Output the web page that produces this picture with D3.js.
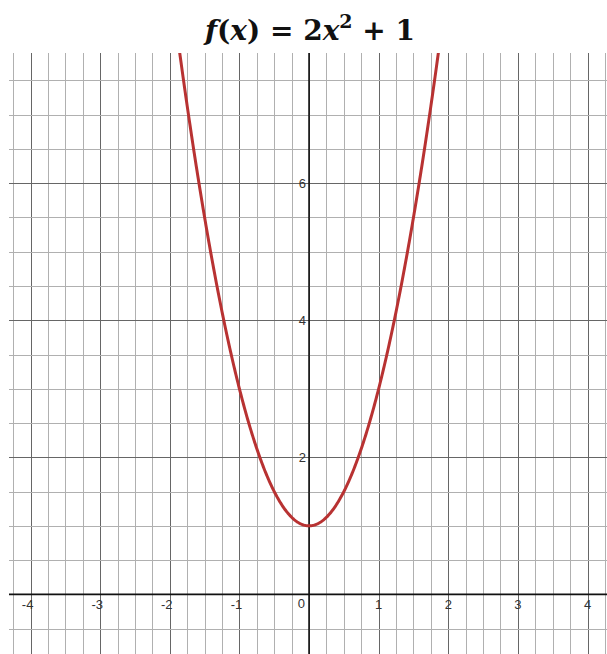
<!DOCTYPE html>
<html><head><meta charset="utf-8">
<script src="https://cdn.jsdelivr.net/npm/d3@7"></script>
<style>body{margin:0;background:#fff;}svg{display:block;}</style>
</head><body>
<svg id="c" width="607" height="654"></svg>
<script>
const xDomain = [-4.31, 4.28];
const yDomain = [-0.87, 7.9];
const xTickLabels = [-4, -3, -2, -1, 1, 2, 3, 4];
const yTickLabels = [2, 4, 6];
const xMinorStep = 0.25;
const yMinorStep = 0.5;
const coefA = 2, coefC = 1;
const curveX = d3.range(-2.0, 2.0001, 0.01);

(function(){
const svg = d3.select("#c");
const pL = 9, pR = 607, pT = 53, pB = 654;
const x = d3.scaleLinear().domain(xDomain).range([pL, pR]);
const y = d3.scaleLinear().domain(yDomain).range([pB, pT]);

svg.append("clipPath").attr("id","clip").append("rect")
  .attr("x", pL).attr("y", pT).attr("width", pR-pL).attr("height", pB-pT);
const g = svg.append("g").attr("clip-path","url(#clip)");

const xMinor = d3.range(Math.ceil(xDomain[0]/xMinorStep)*xMinorStep, xDomain[1], xMinorStep);
const yMinor = d3.range(Math.ceil(yDomain[0]/yMinorStep)*yMinorStep, yDomain[1], yMinorStep);
const isInt = v => Math.abs(v - Math.round(v)) < 1e-6;
const isEven = v => isInt(v) && Math.round(v) % 2 === 0;

g.selectAll(".vx").data(xMinor).join("line")
  .attr("x1", d => Math.round(x(d))+0.5).attr("x2", d => Math.round(x(d))+0.5)
  .attr("y1", pT).attr("y2", pB)
  .attr("stroke", d => isInt(d) ? "#666" : "#b0b0b0").attr("stroke-width", 1);
g.selectAll(".hy").data(yMinor).join("line")
  .attr("y1", d => Math.round(y(d))+0.5).attr("y2", d => Math.round(y(d))+0.5)
  .attr("x1", pL).attr("x2", pR)
  .attr("stroke", d => isEven(d) ? "#666" : "#b0b0b0").attr("stroke-width", 1);

g.append("line").attr("x1", pL).attr("x2", pR).attr("y1", y(0)).attr("y2", y(0))
  .attr("stroke", "#111").attr("stroke-width", 1.6);
g.append("line").attr("y1", pT).attr("y2", pB).attr("x1", x(0)).attr("x2", x(0))
  .attr("stroke", "#111").attr("stroke-width", 1.6);

const line = d3.line().x(d => x(d)).y(d => y(coefA*d*d + coefC));
g.append("path").datum(curveX).attr("d", line).attr("fill","none")
  .attr("stroke", "#b83232").attr("stroke-width", 3).attr("stroke-linejoin","round");

const lab = svg.append("g").attr("font-family","Liberation Sans, Arial, sans-serif")
  .attr("font-size", 13).attr("fill", "#333");
lab.selectAll(".xl").data(xTickLabels).join("text")
  .attr("x", d => x(d) - (d < 0 ? 3 : 0)).attr("y", y(0) + 15)
  .attr("text-anchor","middle").text(d => d < 0 ? "-" + Math.abs(d) : d);
lab.append("text").attr("x", x(0) - 4).attr("y", y(0) + 14).attr("text-anchor","end").text("0");
lab.selectAll(".yl").data(yTickLabels).join("text")
  .attr("x", x(0) - 3).attr("y", d => y(d) + 5).attr("text-anchor","end").text(d => d);

const t = svg.append("text").attr("x", 310).attr("y", 40).attr("text-anchor","middle")
  .attr("font-family","DejaVu Serif, serif").attr("font-size", 28).attr("font-weight","bold")
  .attr("fill","#111");
t.append("tspan").attr("font-style","italic").text("f");
t.append("tspan").text("(");
t.append("tspan").attr("font-style","italic").text("x");
t.append("tspan").text(") = 2");
t.append("tspan").attr("font-style","italic").text("x");
t.append("tspan").attr("font-size", 19).attr("dy", -12).text("2");
t.append("tspan").attr("dy", 12).text(" + 1");
})();
</script>
</body></html>
